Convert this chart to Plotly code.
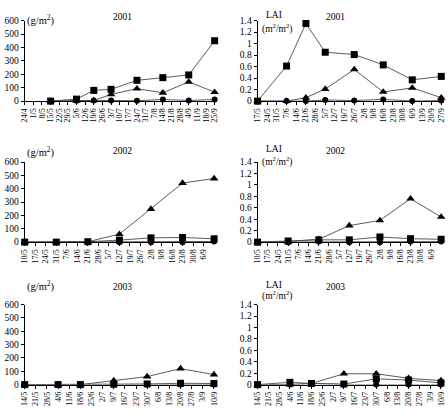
import plotly.graph_objects as go
from datetime import date, timedelta

# ---------------- data ----------------
# 2001
bio2001_dates = ["15/5", "5/6", "19/6", "3/7", "24/7", "14/8", "4/9", "25/9"]
bio2001_sq = [0, 15, 80, 88, 155, 175, 195, 450]
bio2001_tri = [0, 3, 5, 50, 93, 62, 143, 67]
bio2001_cir = [0, 3, 5, 5, 3, 12, 5, 12]
bio2001_ticks = ["24/4", "1/5", "8/5", "15/5", "22/5", "29/5", "5/6", "12/6", "19/6", "26/6",
                 "3/7", "10/7", "17/7", "24/7", "31/7", "7/8", "14/8", "21/8", "28/8", "4/9",
                 "11/9", "18/9", "25/9"]

lai2001_dates = ["17/5", "7/6", "21/6", "5/7", "26/7", "16/8", "6/9", "27/9"]
lai2001_sq = [0, 0.61, 1.35, 0.85, 0.81, 0.63, 0.37, 0.43]
lai2001_tri = [0, 0.0, 0.06, 0.21, 0.55, 0.16, 0.23, 0.06]
lai2001_cir = [0, 0, 0.0, 0.02, 0.01, 0.03, 0.0, 0.01]
lai2001_ticks = ["17/5", "24/5", "31/5", "7/6", "14/6", "21/6", "28/6", "5/7", "12/7", "19/7",
                 "26/7", "2/8", "9/8", "16/8", "23/8", "30/8", "6/9", "13/9", "20/9", "27/9"]

# 2002
y2002_dates = ["10/5", "31/5", "21/6", "12/7", "2/8", "23/8", "13/9"]
bio2002_tri = [0, 0, 3, 60, 248, 443, 477]
bio2002_sq = [0, 0, 3, 15, 32, 35, 25]
bio2002_cir = [0, 0, 0, 0, 0, 0, 5]
lai2002_tri = [0, 0.01, 0.05, 0.29, 0.38, 0.76, 0.44]
lai2002_sq = [0, 0.02, 0.04, 0.04, 0.09, 0.06, 0.05]
lai2002_cir = [0, 0, 0.01, 0, 0, 0.01, 0.01]
y2002_ticks = ["10/5", "17/5", "24/5", "31/5", "7/6", "14/6", "21/6", "28/6", "5/7", "12/7",
               "19/7", "26/7", "2/8", "9/8", "16/8", "23/8", "30/8", "6/9"]

# 2003
y2003_dates = ["14/5", "4/6", "18/6", "9/7", "30/7", "20/8", "10/9"]
bio2003_tri = [0, 0, 0, 30, 60, 120, 75]
bio2003_sq = [0, 0, 0, 3, 5, 10, 8]
bio2003_cir = [0, 0, 0, 0, 0, 0, 0]
lai2003_tri = [0, 0.0, 0.02, 0.19, 0.19, 0.11, 0.07]
lai2003_sq = [0, 0.04, 0.02, 0.01, 0.10, 0.08, 0.03]
lai2003_cir = [0, 0, 0.02, 0.0, 0, 0, 0]
y2003_ticks = ["14/5", "21/5", "28/5", "4/6", "11/6", "18/6", "25/6", "2/7", "9/7", "16/7",
               "23/7", "30/7", "6/8", "13/8", "20/8", "27/8", "3/9", "10/9"]


def to_date(lbl, year):
    d, m = lbl.split("/")
    return date(year, int(m), int(d))


FONT = "Liberation Serif"
LINE_COL = "#4a4a4a"

fig = go.Figure()

panels = [
    (1, 2001, bio2001_dates, (bio2001_cir, bio2001_sq, bio2001_tri), bio2001_ticks, 600, 100, 0, 0),
    (2, 2001, lai2001_dates, (lai2001_cir, lai2001_sq, lai2001_tri), lai2001_ticks, 1.4, 0.2, 1, 0),
    (3, 2002, y2002_dates, (bio2002_cir, bio2002_sq, bio2002_tri), y2002_ticks, 600, 100, 0, 1),
    (4, 2002, y2002_dates, (lai2002_cir, lai2002_sq, lai2002_tri), y2002_ticks, 1.4, 0.2, 1, 1),
    (5, 2003, y2003_dates, (bio2003_cir, bio2003_sq, bio2003_tri), y2003_ticks, 600, 100, 0, 2),
    (6, 2003, y2003_dates, (lai2003_cir, lai2003_sq, lai2003_tri), y2003_ticks, 1.4, 0.2, 1, 2),
]

W, H = 448, 414
col_px = [(21, 216), (257, 446)]
row_px = [(16, 98.5), (161, 243), (307, 389)]

symbols = ["circle", "square", "triangle-up"]
sizes = [6, 7, 7.5]

for idx, year, dlist, series, ticks, ymax, ystep, col, row in panels:
    xs = [to_date(s, year) for s in dlist]
    tickdates = [to_date(t, year) for t in ticks]
    suffix = "" if idx == 1 else str(idx)
    for ser, sym, sz in zip(series, symbols, sizes):
        fig.add_trace(go.Scatter(
            x=xs, y=ser, mode="lines+markers",
            line=dict(color=LINE_COL, width=0.9),
            marker=dict(symbol=sym, size=sz, color="black"),
            xaxis="x" + suffix, yaxis="y" + suffix,
            cliponaxis=False, showlegend=False,
        ))
    x0, x1 = col_px[col]
    ytop, ybot = row_px[row]
    xstart = tickdates[0]
    xend = xs[-1] + timedelta(days=2)
    fig.layout["xaxis" + suffix] = dict(
        domain=[x0 / W, x1 / W], anchor="y" + suffix, type="date",
        range=[xstart.isoformat(), xend.isoformat()],
        tickmode="array", tickvals=[t.isoformat() for t in tickdates], ticktext=ticks,
        tickangle=-90, tickfont=dict(family=FONT, size=8, color="black"),
        showline=True, linecolor="black", linewidth=1,
        ticks="outside", ticklen=3, tickcolor="black", tickwidth=1,
        showgrid=False, zeroline=False,
    )
    fig.layout["yaxis" + suffix] = dict(
        domain=[1 - ybot / H, 1 - ytop / H], anchor="x" + suffix,
        range=[0, ymax], dtick=ystep, tick0=0,
        tickfont=dict(family=FONT, size=9.5, color="black"),
        showline=True, linecolor="black", linewidth=1,
        ticks="outside", ticklen=3, tickcolor="black", tickwidth=1,
        showgrid=False, zeroline=False,
        tickformat="~g",
    )

annotations = []
years = [2001, 2002, 2003]
for r, yr in enumerate(years):
    ytop = row_px[r][0]
    annotations.append(dict(text="(g/m<sup>2</sup>)", x=21 / W, y=1 - (ytop - 10) / H,
                            xref="paper", yref="paper", showarrow=False,
                            font=dict(family=FONT, size=10.5, color="black")))
    annotations.append(dict(text=str(yr), x=108 / W, y=1 - (ytop - 11) / H,
                            xref="paper", yref="paper", showarrow=False,
                            font=dict(family=FONT, size=9.5, color="black")))
    annotations.append(dict(text="LAI", x=274 / W, y=1 - (ytop - 13) / H,
                            xref="paper", yref="paper", showarrow=False,
                            font=dict(family=FONT, size=9.5, color="black")))
    annotations.append(dict(text="(m<sup>2</sup>/m<sup>2</sup>)", x=277 / W, y=1 - (ytop - 1) / H,
                            xref="paper", yref="paper", showarrow=False,
                            font=dict(family=FONT, size=9.5, color="black")))
    annotations.append(dict(text=str(yr), x=348 / W, y=1 - (ytop - 11) / H,
                            xref="paper", yref="paper", showarrow=False,
                            font=dict(family=FONT, size=9.5, color="black")))

fig.update_layout(
    width=W, height=H, margin=dict(l=0, r=0, t=0, b=0),
    paper_bgcolor="white", plot_bgcolor="white",
    annotations=annotations,
    font=dict(family=FONT, size=9, color="black"),
)

fig.write_html("out.html")
